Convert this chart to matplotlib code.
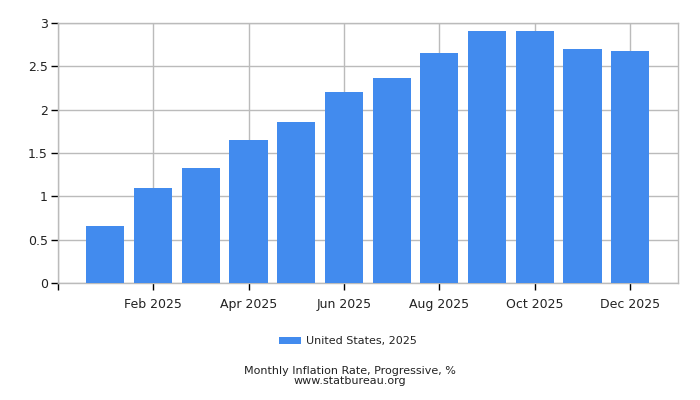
import matplotlib
matplotlib.use("Agg")
import matplotlib.pyplot as plt
from matplotlib.patches import Patch

months = ["Jan 2025", "Feb 2025", "Mar 2025", "Apr 2025", "May 2025", "Jun 2025",
          "Jul 2025", "Aug 2025", "Sep 2025", "Oct 2025", "Nov 2025", "Dec 2025"]
values = [0.66, 1.10, 1.33, 1.65, 1.86, 2.20, 2.36, 2.65, 2.91, 2.91, 2.70, 2.67]
series_label = "United States, 2025"
yticks = [0, 0.5, 1, 1.5, 2, 2.5, 3]
ytick_labels = ["0", "0.5", "1", "1.5", "2", "2.5", "3"]

bar_color = "#428bee"
grid_color = "#bbbbbb"
text_color = "#222222"

fig = plt.figure(figsize=(7, 4), dpi=100)
ax = fig.add_axes([0.0824, 0.292, 0.886, 0.651])

x = list(range(len(months)))
ax.bar(x, values, width=0.8, color=bar_color, zorder=3)

ax.set_xlim(-1, len(months))
ax.set_ylim(0, 3)

xt = [-1] + [i for i in x if i % 2 == 1]
ax.set_xticks(xt)
ax.set_xticklabels([""] + [months[i] for i in x if i % 2 == 1], fontsize=9, color=text_color)
ax.set_yticks(yticks)
ax.set_yticklabels(ytick_labels, fontsize=9, color=text_color)

ax.grid(True, color=grid_color, linewidth=1, zorder=0)
ax.set_axisbelow(True)
for s in ax.spines.values():
    s.set_color(grid_color)
    s.set_linewidth(1)
ax.tick_params(axis="both", colors="black", length=5, width=1, labelcolor=text_color)
ax.tick_params(axis="x", pad=6)
ax.tick_params(axis="y", pad=2)

handle = Patch(facecolor=bar_color, edgecolor="none")
fig.legend([handle], [series_label], loc="center", bbox_to_anchor=(0.497, 0.147),
           frameon=False, fontsize=8, handlelength=2.0, handleheight=0.6,
           handletextpad=0.4, labelcolor=text_color)

fig.text(0.5, 0.072, "Monthly Inflation Rate, Progressive, %", ha="center", va="center",
         fontsize=8, color=text_color)
fig.text(0.5, 0.047, "www.statbureau.org", ha="center", va="center",
         fontsize=8, color=text_color)

fig.savefig("out.png", dpi=100)
